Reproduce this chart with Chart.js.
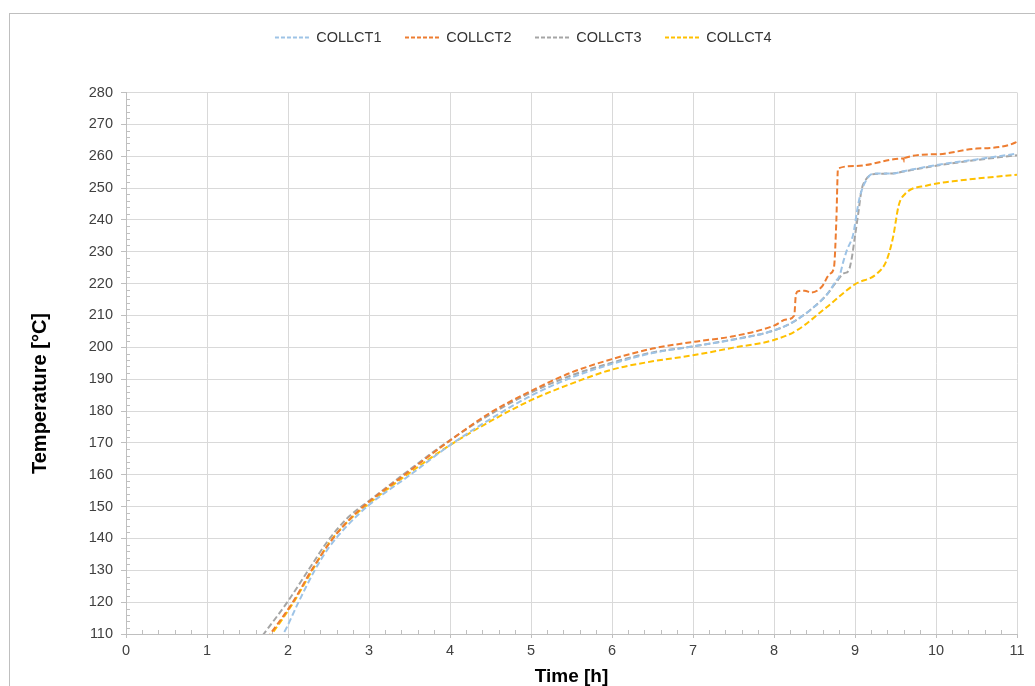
<!DOCTYPE html>
<html>
<head>
<meta charset="utf-8">
<title>Collector temperatures</title>
<script src="https://cdn.jsdelivr.net/npm/chart.js@4.4.1/dist/chart.umd.min.js"></script>
<style>
  html, body { margin: 0; padding: 0; background: #fff; overflow: hidden; width: 1035px; height: 686px; }
  .chart-box { position: absolute; left: 9px; top: 13px; width: 1027px; height: 700px; border: 1px solid #bfbfbf; }
</style>
</head>
<body>
<div class="chart-box"><canvas id="tempChart"></canvas></div>
<script>
// time [h] / temperature [°C] per collector
const collct1Hours = [1.75, 1.94, 2.13, 2.33, 2.5, 2.75, 3.0, 3.5, 4.0, 4.5, 5.0, 5.5, 6.0, 6.5, 7.0, 7.5, 8.0, 8.24, 8.49, 8.65, 8.77, 8.81, 8.86, 8.9, 8.98, 9.02, 9.06, 9.14, 9.23, 9.47, 9.6, 10.0, 10.5, 11.0]
const collct1Temps = [104, 110, 120, 130, 137, 144.5, 150.5, 159.8, 169.3, 177.5, 184.8, 190.5, 194.8, 198.2, 200.3, 202.4, 205.3, 208, 212.6, 216.5, 221, 222.5, 227.3, 230.5, 235.7, 242, 247.3, 252.5, 254.6, 254.6, 255.3, 257.2, 259, 260.8]

const collct2Hours = [1.6, 1.78, 2.06, 2.29, 2.54, 2.78, 3.0, 3.44, 3.96, 4.5, 5.0, 5.5, 6.0, 6.5, 7.0, 7.5, 8.0, 8.15, 8.25, 8.27, 8.3, 8.38, 8.46, 8.59, 8.69, 8.74, 8.77, 8.79, 9.0, 9.6, 9.605, 9.61, 10.0, 10.5, 10.98, 11.0]
const collct2Temps = [104, 110, 120, 130, 139.5, 146.5, 151.5, 160, 170, 179.5, 186.3, 192.1, 196.3, 199.6, 201.7, 203.5, 206.8, 208.7, 210, 216.5, 217.6, 217.8, 217.2, 219, 223.1, 225, 240, 256.1, 256.9, 259.3, 258.3, 259.4, 260.6, 262.4, 264.3, 265.4]

const collct3Hours = [1.55, 1.7, 2.0, 2.25, 2.5, 2.75, 3.0, 3.42, 3.94, 4.5, 5.0, 5.5, 6.0, 6.5, 7.0, 7.5, 8.0, 8.24, 8.49, 8.65, 8.77, 8.86, 8.92, 8.96, 9.0, 9.04, 9.08, 9.13, 9.2, 9.3, 9.47, 9.6, 10.0, 10.5, 11.0]
const collct3Temps = [105, 110, 120.3, 130, 139.5, 146.8, 151.8, 160, 169.8, 179, 185.8, 191.2, 195.2, 198.4, 200.3, 202.5, 205.3, 208, 212.6, 216.5, 220.5, 223.2, 224, 228, 235, 242, 249.3, 252.5, 254.2, 254.5, 254.6, 255.2, 257, 258.8, 260.3]

const collct4Hours = [1.62, 1.8, 2.07, 2.3, 2.5, 2.75, 3.0, 3.47, 4.0, 4.5, 5.0, 5.5, 6.0, 6.5, 7.0, 7.5, 8.0, 8.28, 8.65, 9.0, 9.27, 9.39, 9.47, 9.54, 9.62, 9.89, 10.3, 11.0]
const collct4Temps = [104, 110, 120, 130, 138.3, 145.6, 151, 160, 169.3, 176.8, 183.4, 188.6, 193.0, 195.6, 197.5, 199.9, 202.3, 205.3, 212.6, 219.8, 223.1, 227.3, 234.6, 244.6, 248.2, 250.8, 252.4, 254.2]

const seriesNames = ["COLLCT1", "COLLCT2", "COLLCT3", "COLLCT4"]
const seriesColors = ["#9dc3e6", "#ed7d31", "#a5a5a5", "#ffc000"]

Chart.defaults.font.family = "'Liberation Sans', Arial, sans-serif"

function toPoints(hours, temps) {
  return hours.map((h, i) => ({ x: h, y: temps[i] }))
}

const series = [
  toPoints(collct1Hours, collct1Temps),
  toPoints(collct2Hours, collct2Temps),
  toPoints(collct3Hours, collct3Temps),
  toPoints(collct4Hours, collct4Temps)
]

// small ticks every 2 °C and every 0.2 h, inside the plot
const minorTicks = {
  id: "minorTicks",
  beforeDatasetsDraw(chart) {
    const { ctx, chartArea: a, scales: { x, y } } = chart
    ctx.save()
    ctx.strokeStyle = "#bfbfbf"
    ctx.lineWidth = 1
    ctx.beginPath()
    for (let v = 112; v < 280; v += 2) {
      if (v % 10 === 0) continue
      const py = Math.round(y.getPixelForValue(v)) + 0.5
      ctx.moveTo(a.left, py)
      ctx.lineTo(a.left + 4, py)
    }
    for (let i = 1; i < 55; i++) {
      if (i % 5 === 0) continue
      const px = Math.round(x.getPixelForValue(i / 5)) + 0.5
      ctx.moveTo(px, a.bottom)
      ctx.lineTo(px, a.bottom - 4)
    }
    ctx.stroke()
    ctx.restore()
  }
}

// y title sits a bit below the middle of the axis
const yTitle = {
  id: "yTitle",
  afterDraw(chart) {
    const { ctx, chartArea: a } = chart
    ctx.save()
    ctx.translate(a.left - 85.5, a.top + 301)
    ctx.rotate(-Math.PI / 2)
    ctx.font = "bold 20px 'Liberation Sans', Arial, sans-serif"
    ctx.fillStyle = "#000"
    ctx.textAlign = "center"
    ctx.textBaseline = "middle"
    ctx.fillText("Temperature [°C]", 0, 0)
    ctx.restore()
  }
}

new Chart(document.getElementById("tempChart"), {
  type: "line",
  data: {
    datasets: series.map((points, i) => ({
      label: seriesNames[i],
      data: points,
      borderColor: seriesColors[i],
      backgroundColor: seriesColors[i],
      borderWidth: 2,
      borderDash: [6, 3],
      pointRadius: 0,
      fill: false,
      cubicInterpolationMode: "monotone"
    }))
  },
  options: {
    responsive: true,
    maintainAspectRatio: false,
    animation: false,
    layout: { padding: { top: -7.25, left: 19.5, right: 20, bottom: 24 } },
    plugins: {
      legend: {
        position: "top",
        labels: {
          usePointStyle: true,
          pointStyle: "line",
          pointStyleWidth: 34,
          padding: 23.5,
          color: "#333",
          font: { size: 14.5 },
          generateLabels: chart => Chart.defaults.plugins.legend.labels.generateLabels(chart)
            .map(l => ({ ...l, lineDash: [4, 2] }))
        }
      },
      // empty spacer between legend and plot
      subtitle: {
        display: true,
        text: " ",
        weight: 0,
        font: { size: 10, lineHeight: 1 },
        padding: { top: 27.75, bottom: 0 }
      },
      tooltip: { enabled: false }
    },
    scales: {
      x: {
        type: "linear",
        min: 0,
        max: 11,
        ticks: { stepSize: 1, padding: 4.3, color: "#404040", font: { size: 14.5 } },
        grid: { color: "#d9d9d9", tickColor: "#bfbfbf", tickLength: 4 },
        border: { color: "#bfbfbf" },
        title: {
          display: true,
          text: "Time [h]",
          color: "#000",
          font: { size: 19, weight: "bold" },
          padding: { top: 0, bottom: 1.6 }
        },
        afterFit: s => { s.height = 56 }
      },
      y: {
        min: 110,
        max: 280,
        ticks: { stepSize: 10, padding: 8, color: "#404040", font: { size: 14.5 } },
        grid: { color: "#d9d9d9", tickColor: "#bfbfbf", tickLength: 5 },
        border: { color: "#bfbfbf" },
        afterFit: s => { s.width = 96.5 }
      }
    }
  },
  plugins: [minorTicks, yTitle]
})
</script>
</body>
</html>
